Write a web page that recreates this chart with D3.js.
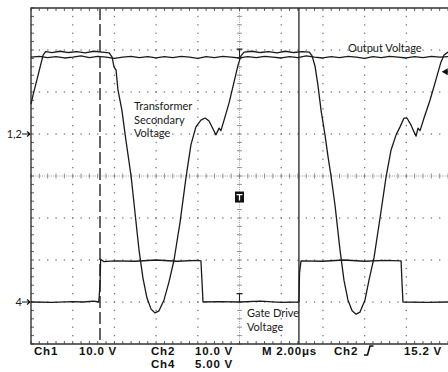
<!DOCTYPE html>
<html>
<head>
<meta charset="utf-8">
<script src="https://cdn.jsdelivr.net/npm/d3@7"></script>
<style>
  body { margin: 0; background: #fff; }
  svg { display: block; }
  .lbl { font-family: Lato, "Open Sans", sans-serif; font-size: 11px; fill: #1a1a1a; }
  .scope { font-family: "Liberation Sans", Arial, sans-serif; font-weight: bold; font-size: 11.5px; fill: #111; letter-spacing: 0.8px; }
</style>
</head>
<body>
<svg id="chart" width="448" height="372"></svg>
<script>
// time in µs (2 µs/div, trigger at 0), amplitude in divisions from centre
const outputVoltage = [[-10,2.83],[-9.6,2.85],[-9.2,2.82],[-8.8,2.84],[-8.4,2.81],[-8.0,2.83],[-7.6,2.86],[-7.2,2.82],[-6.8,2.85],[-6.4,2.83],[-6.0,2.80],[-5.6,2.83],[-5.2,2.85],[-4.8,2.82],[-4.4,2.84],[-4.0,2.81],[-3.6,2.84],[-3.2,2.82],[-2.8,2.85],[-2.4,2.83],[-2.0,2.80],[-1.6,2.84],[-1.2,2.82],[-0.8,2.85],[-0.4,2.83],[0,2.81],[0.4,2.84],[0.8,2.82],[1.2,2.85],[1.6,2.83],[2.0,2.81],[2.4,2.84],[2.8,2.82],[3.2,2.86],[3.6,2.83],[4.0,2.81],[4.4,2.84],[4.8,2.82],[5.2,2.85],[5.6,2.83],[6.0,2.80],[6.4,2.84],[6.8,2.82],[7.2,2.85],[7.6,2.83],[8.0,2.81],[8.4,2.84],[8.8,2.82],[9.2,2.85],[9.6,2.83],[10,2.84]];

const secondaryVoltage = [[-10,1.71],[-9.9,1.93],[-9.66,2.40],[-9.42,2.88],[-9.3,2.96],[-9.0,2.94],[-8.6,2.97],[-8.2,2.94],[-7.8,2.96],[-7.4,2.93],[-7.0,2.97],[-6.6,2.95],[-6.25,2.93],[-6.11,2.83],[-6.02,2.60],[-5.92,2.52],[-5.83,2.05],[-5.64,1.57],[-5.45,0.86],[-5.2,0],[-5.01,-0.88],[-4.82,-1.76],[-4.63,-2.43],[-4.44,-2.90],[-4.24,-3.17],[-4.05,-3.26],[-3.86,-3.21],[-3.62,-2.95],[-3.38,-2.52],[-3.14,-2.0],[-2.85,-1.10],[-2.57,-0.05],[-2.33,0.74],[-2.09,1.17],[-1.85,1.33],[-1.65,1.38],[-1.46,1.31],[-1.27,1.12],[-1.13,0.98],[-0.98,1.14],[-0.89,1.08],[-0.74,1.33],[-0.50,1.74],[-0.26,2.24],[-0.07,2.64],[0.07,2.86],[0.22,2.95],[0.6,2.97],[1.0,2.94],[1.4,2.96],[1.8,2.93],[2.2,2.97],[2.6,2.94],[3.0,2.96],[3.35,2.95],[3.48,2.86],[3.62,2.62],[3.76,2.17],[3.91,1.57],[4.10,0.98],[4.24,0.48],[4.39,0],[4.58,-0.69],[4.82,-1.76],[5.01,-2.48],[5.20,-2.95],[5.40,-3.21],[5.59,-3.29],[5.78,-3.24],[6.02,-2.95],[6.21,-2.48],[6.45,-1.95],[6.74,-1.0],[7.03,-0.02],[7.27,0.62],[7.51,0.98],[7.70,1.17],[7.89,1.38],[8.03,1.38],[8.23,1.21],[8.37,1.05],[8.47,0.95],[8.56,1.14],[8.66,1.08],[8.85,1.38],[9.14,1.81],[9.42,2.29],[9.66,2.71],[9.81,2.88],[10,2.95]];

const gateVoltage = [[-10,-3.0],[-9,-3.01],[-8,-2.99],[-7.5,-3.0],[-7,-2.98],[-6.75,-3.0],[-6.69,-2.6],[-6.66,-1.98],[-6.5,-2.04],[-6,-2.02],[-5,-2.03],[-4,-2.0],[-3,-2.03],[-2,-2.01],[-1.85,-2.02],[-1.80,-2.5],[-1.75,-3.0],[-1,-2.99],[0,-3.0],[1,-2.98],[2,-3.01],[2.85,-3.0],[2.88,-2.3],[2.95,-2.02],[4,-2.03],[5,-2.0],[6,-2.03],[7,-2.01],[7.75,-2.02],[7.79,-2.5],[7.84,-3.0],[9,-3.01],[10,-3.0]];

const cursorTimes = [-6.69, 2.85];

const traceLabels = [
  {text: ["Transformer", "Secondary", "Voltage"], t: -5.06, d: 1.56},
  {text: ["Output Voltage"], t: 5.2, d: 2.95},
  {text: ["Gate Drive", "Voltage"], t: 0.36, d: -3.36}
];
const channelMarkers = [{text: "1,2", d: 1.0}, {text: "4", d: -3.0}];
const statusRow1 = [["Ch1", 34], ["10.0 V", 79], ["Ch2", 151], ["10.0 V", 195], ["M 2.00\u03bcs", 262], ["Ch2", 334], ["15.2 V", 404]];
const statusRow2 = [["Ch4", 151], ["5.00 V", 195]];

const svg = d3.select('#chart');
const x = d3.scaleLinear().domain([-10, 10]).range([31, 448]);
const y = d3.scaleLinear().domain([-4, 4]).range([344, 8]);

const grid = svg.append('g');
const minor = d3.range(-10, 10.01, 0.4);
const minorY = d3.range(-4, 4.01, 0.2);

// dotted division lines
[-8, -6, -4, -2, 2, 4, 6, 8].forEach(t => {
  grid.selectAll(null).data(minorY.slice(1, -1)).enter().append('rect')
    .attr('x', x(t) - 0.6).attr('y', d => y(d) - 0.6).attr('width', 1.3).attr('height', 1.3).attr('fill', '#777');
});
[-3, -2, -1, 1, 2, 3].forEach(d0 => {
  grid.selectAll(null).data(minor.slice(1, -1)).enter().append('rect')
    .attr('x', t => x(t) - 0.6).attr('y', y(d0) - 0.6).attr('width', 1.3).attr('height', 1.3).attr('fill', '#777');
});

// centre lines with ticks
grid.append('line').attr('x1', x(-10)).attr('x2', x(10)).attr('y1', y(0)).attr('y2', y(0))
  .attr('stroke', '#888').attr('stroke-width', 0.8).attr('stroke-dasharray', '1,1.2');
grid.append('line').attr('x1', x(0)).attr('x2', x(0)).attr('y1', y(-4)).attr('y2', y(4))
  .attr('stroke', '#888').attr('stroke-width', 0.8).attr('stroke-dasharray', '1,1.2');
grid.selectAll(null).data(minor).enter().append('line')
  .attr('x1', t => x(t)).attr('x2', t => x(t)).attr('y1', y(0) - 2.5).attr('y2', y(0) + 2.5)
  .attr('stroke', '#777').attr('stroke-width', 0.8);
grid.selectAll(null).data(minorY).enter().append('line')
  .attr('y1', d => y(d)).attr('y2', d => y(d)).attr('x1', x(0) - 2.5).attr('x2', x(0) + 2.5)
  .attr('stroke', '#777').attr('stroke-width', 0.8);

// border with ticks
const frame = svg.append('g').attr('stroke', '#333');
frame.append('path').attr('fill', 'none').attr('stroke-width', 1.4)
  .attr('d', `M${x(10)},${y(4)}H${x(-10)}V${y(-4)}H${x(10)}`);
frame.selectAll(null).data(minor).enter().append('line')
  .attr('x1', t => x(t)).attr('x2', t => x(t)).attr('y1', y(4)).attr('y2', y(4) + 3).attr('stroke-width', 0.8);
frame.selectAll(null).data(minor).enter().append('line')
  .attr('x1', t => x(t)).attr('x2', t => x(t)).attr('y1', y(-4)).attr('y2', y(-4) - 3).attr('stroke-width', 0.8);
frame.selectAll(null).data(minorY).enter().append('line')
  .attr('y1', d => y(d)).attr('y2', d => y(d)).attr('x1', x(-10)).attr('x2', x(-10) + 3).attr('stroke-width', 0.8);

// cursors
svg.append('line').attr('x1', x(cursorTimes[0])).attr('x2', x(cursorTimes[0])).attr('y1', y(4)).attr('y2', y(-4))
  .attr('stroke', '#555').attr('stroke-width', 1.8).attr('stroke-dasharray', '12,4');
svg.append('line').attr('x1', x(cursorTimes[1])).attr('x2', x(cursorTimes[1])).attr('y1', y(4)).attr('y2', y(-4))
  .attr('stroke', '#222').attr('stroke-width', 1.3);

// traces
const line = d3.line().x(p => x(p[0])).y(p => y(p[1]));
[outputVoltage, secondaryVoltage, gateVoltage].forEach(s => {
  svg.append('path').datum(s).attr('d', line).attr('fill', 'none')
    .attr('stroke', '#1a1a1a').attr('stroke-width', 1.3).attr('stroke-linejoin', 'round');
});

// small I-beam markers on the centre line
[[3.02, 2.76], [-2.8, -3.0]].forEach(([d1, d2]) => {
  svg.append('path').attr('fill', 'none').attr('stroke', '#222').attr('stroke-width', 1.1)
    .attr('d', `M${x(0) - 3},${y(d1)}H${x(0) + 3}M${x(0)},${y(d1)}V${y(d2)}`);
});

// trigger "T" marker
svg.append('rect').attr('x', x(0) - 4.5).attr('y', y(-0.37)).attr('width', 9).attr('height', 11).attr('fill', '#111');
svg.append('path').attr('fill', 'none').attr('stroke', '#fff').attr('stroke-width', 1.3)
  .attr('d', `M${x(0) - 3},${y(-0.37) + 3}H${x(0) + 3}M${x(0)},${y(-0.37) + 3}V${y(-0.37) + 9}`);

// trigger level arrow on the right
svg.append('path').attr('fill', '#111')
  .attr('d', `M${x(9.7)},${y(2.48)}l6,-3.5v7z`);
svg.append('line').attr('x1', x(9.7) + 5).attr('x2', x(10)).attr('y1', y(2.48)).attr('y2', y(2.48))
  .attr('stroke', '#111').attr('stroke-width', 1.2);

// channel markers on the left
channelMarkers.forEach(m => {
  svg.append('text').attr('class', 'lbl').attr('x', x(-10) - 9).attr('y', y(m.d) + 4)
    .attr('text-anchor', 'end').text(m.text);
  svg.append('path').attr('fill', 'none').attr('stroke', '#111').attr('stroke-width', 1.1)
    .attr('d', `M${x(-10) - 9},${y(m.d)}H${x(-10) - 1}M${x(-10) - 4},${y(m.d) - 2.5}L${x(-10) - 1},${y(m.d)}L${x(-10) - 4},${y(m.d) + 2.5}`);
});

// trace labels
traceLabels.forEach(l => {
  const tx = svg.append('text').attr('class', 'lbl').attr('x', x(l.t)).attr('y', y(l.d));
  l.text.forEach((s, i) => tx.append('tspan').attr('x', x(l.t)).attr('dy', i ? 13.5 : 0).text(s));
});

// status line
statusRow1.forEach(([s, px]) => svg.append('text').attr('class', 'scope').attr('x', px).attr('y', 355).text(s));
statusRow2.forEach(([s, px]) => svg.append('text').attr('class', 'scope').attr('x', px).attr('y', 368).text(s));
// rising edge trigger symbol
svg.append('path').attr('fill', 'none').attr('stroke', '#111').attr('stroke-width', 1.6)
  .attr('d', 'M364,355H367.5L370,346H373.5');
</script>
</body>
</html>
